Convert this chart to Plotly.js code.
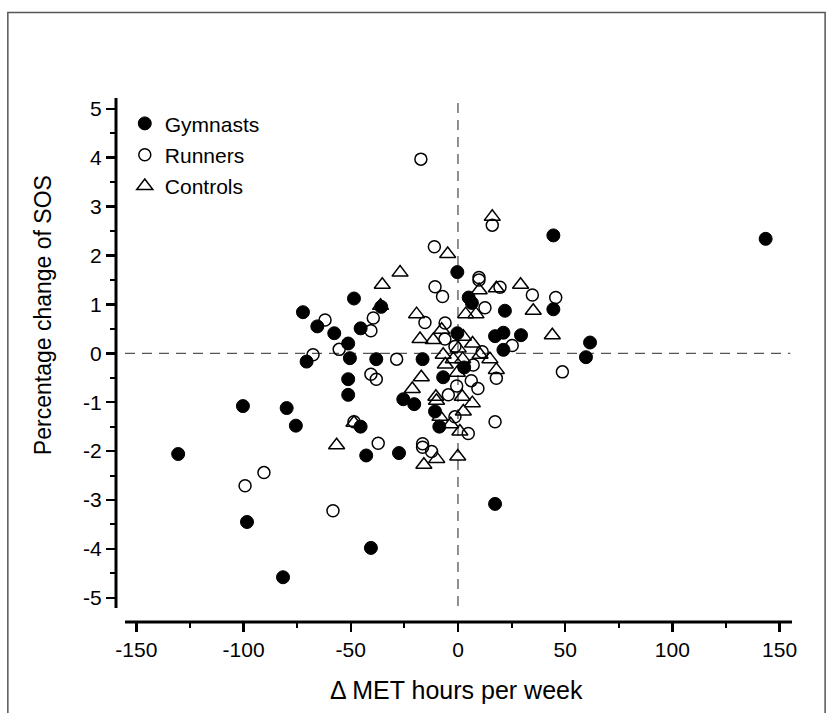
<!DOCTYPE html>
<html>
<head>
<meta charset="utf-8">
<script src="https://cdn.plot.ly/plotly-3.0.1.min.js"></script>
<style>
html,body{margin:0;padding:0;background:#fff;}
#chart{width:829px;height:713px;}
</style>
</head>
<body>
<div id="chart"></div>
<script>
// Gymnasts (filled circles)
const gymX = [-130.5,-100.3,-98.4,-81.6,-79.9,-75.6,-72.3,-70.6,-65.6,-57.7,-51.2,-50.4,-51.2,-51.2,-48.5,-45.4,-45.4,-42.8,-40.6,-38.1,-35.8,-27.5,-25.5,-20.4,-16.5,-10.7,-8.7,-6.9,-0.3,-0.3,2.9,5.0,6.5,17.3,17.3,21.2,21.2,21.9,29.4,44.5,44.5,59.7,61.6,143.5];
const gymY = [-2.06,-1.08,-3.45,-4.58,-1.12,-1.48,0.84,-0.17,0.55,0.41,0.20,-0.10,-0.53,-0.85,1.12,0.51,-1.50,-2.09,-3.98,-0.12,0.95,-2.04,-0.94,-1.04,-0.12,-1.19,-1.50,-0.49,0.41,1.66,-0.29,1.14,1.03,0.35,-3.08,0.42,0.07,0.87,0.37,0.90,2.41,-0.08,0.22,2.34];

// Runners (open circles)
const runX = [-99.3,-90.5,-67.6,-62.0,-58.3,-55.4,-48.5,-40.6,-39.5,-40.6,-38.1,-37.2,-28.6,-17.3,-16.5,-16.5,-15.4,-12.3,-11.0,-10.7,-7.2,-6.0,-6.1,-4.5,-1.4,-1.4,-0.6,4.8,6.2,7.1,9.3,9.8,9.8,11.3,12.6,16.0,17.3,17.9,19.6,25.3,34.7,45.6,48.7];
const runY = [-2.71,-2.44,-0.03,0.68,-3.22,0.08,-1.40,0.46,0.72,-0.43,-0.53,-1.84,-0.12,3.97,-1.85,-1.92,0.63,-2.01,2.18,1.36,1.16,0.62,0.29,-0.85,0.14,-1.30,-0.67,-1.64,-0.56,-0.24,-0.72,1.50,1.55,0.03,0.93,2.62,-1.40,-0.51,1.35,0.16,1.19,1.14,-0.38];

// Controls (open triangles)
const conX = [-56.6,-48.5,-36.1,-35.3,-27.0,-21.3,-19.3,-17.7,-17.1,-15.9,-11.5,-10.3,-10.0,-9.9,-8.4,-7.6,-6.9,-5.9,-4.8,-3.4,-2.2,-0.3,-0.1,0.1,0.9,2.0,2.2,2.5,2.5,3.6,6.7,6.8,8.4,9.9,10.3,14.9,16.0,17.9,17.9,29.2,35.1,44.0];
const conY = [-1.88,-1.42,0.97,1.40,1.65,-0.73,0.80,0.29,-0.49,-2.28,0.27,-0.89,-0.97,-2.16,-1.30,0.48,-0.03,-0.23,2.03,-1.45,-0.12,-0.40,-2.11,0.10,-1.60,-0.89,-0.12,0.34,-1.19,0.80,-1.02,0.20,0.80,1.29,-0.03,-0.12,2.79,1.33,-0.34,1.40,0.87,0.37];

const seriesNames = ["Gymnasts","Runners","Controls"];
const xTickVals = [-150,-100,-50,0,50,100,150];
const yTickVals = [-5,-4,-3,-2,-1,0,1,2,3,4,5];

const FONT = "Liberation Sans, Arial, sans-serif";

const traces = [
  {x: gymX, y: gymY, name: seriesNames[0], type: "scatter", mode: "markers", legendgroup: "g1",
   marker: {symbol: "circle", size: 13, color: "#000", line: {color: "#000", width: 1}}},
  {x: runX, y: runY, name: seriesNames[1], type: "scatter", mode: "markers", legendgroup: "g2",
   marker: {symbol: "circle-open", size: 12, color: "#000", line: {color: "#000", width: 1.5}}},
  {x: conX, y: conY, name: seriesNames[2], type: "scatter", mode: "markers", legendgroup: "g3",
   marker: {symbol: "triangle-up-open", size: 14, color: "#000", line: {color: "#000", width: 1.5}}}
];

const layout = {
  width: 829, height: 713,
  margin: {l: 116, r: 37, t: 98, b: 91},
  paper_bgcolor: "#fff", plot_bgcolor: "#fff",
  font: {family: FONT, size: 21, color: "#000"},
  showlegend: true,
  legend: {x: 0.013, y: 0.99, xanchor: "left", yanchor: "top", bgcolor: "rgba(0,0,0,0)",
           font: {family: FONT, size: 21, color: "#000"}, tracegroupgap: 1, itemwidth: 30},
  xaxis: {range: [-159.5, 155.8], tickvals: xTickVals, ticktext: xTickVals.map(String),
          showgrid: false, zeroline: false, showline: false,
          ticks: "outside", ticklen: 9, tickwidth: 2.5, tickcolor: "#000",
          minor: {tickvals: [-125,-75,-25,25,75,125], ticks: "outside", ticklen: 5, tickwidth: 2, tickcolor: "#000", showgrid: false},
          tickfont: {family: FONT, size: 21}},
  yaxis: {range: [-5.495, 5.22], tickvals: yTickVals, ticktext: yTickVals.map(String),
          showgrid: false, zeroline: false, showline: false,
          ticks: "outside", ticklen: 9, tickwidth: 2.5, tickcolor: "#000",
          minor: {tickvals: [-4.5,-3.5,-2.5,-1.5,-0.5,0.5,1.5,2.5,3.5,4.5], ticks: "outside", ticklen: 5, tickwidth: 2, tickcolor: "#000", showgrid: false},
          tickfont: {family: FONT, size: 21}},
  shapes: [
    // axis lines
    {type: "line", xref: "x", yref: "paper", x0: -155.3, x1: 155.8, y0: 0, y1: 0, line: {color: "#000", width: 3}},
    {type: "line", xref: "paper", yref: "y", x0: 0, x1: 0, y0: -5.21, y1: 5.22, line: {color: "#000", width: 3}},
    // reference dashed lines
    {type: "line", xref: "x", yref: "y", x0: -155.3, x1: 155, y0: 0, y1: 0, layer: "below", line: {color: "#555", width: 1.3, dash: "10px,7px"}},
    {type: "line", xref: "x", yref: "y", x0: 0, x1: 0, y0: 5.12, y1: -5.21, layer: "below", line: {color: "#555", width: 1.3, dash: "10px,7px"}},
    // outer frame
    {type: "rect", xref: "paper", yref: "paper", x0: -0.16, x1: 1.049, y0: -0.3, y1: 1.163, line: {color: "#555", width: 1.5}}
  ],
  annotations: [
    {text: "Percentage change of SOS", xref: "paper", yref: "paper", x: -0.107, y: 0.585, textangle: -90,
     showarrow: false, xanchor: "center", yanchor: "middle", font: {family: FONT, size: 23, color: "#000"}},
    {text: "\u0394 MET hours per week", xref: "paper", yref: "paper", x: 0.503, y: -0.13,
     showarrow: false, xanchor: "center", yanchor: "middle", font: {family: FONT, size: 25, color: "#000"}}
  ]
};

Plotly.newPlot("chart", traces, layout, {displayModeBar: false, staticPlot: true});
</script>
</body>
</html>
